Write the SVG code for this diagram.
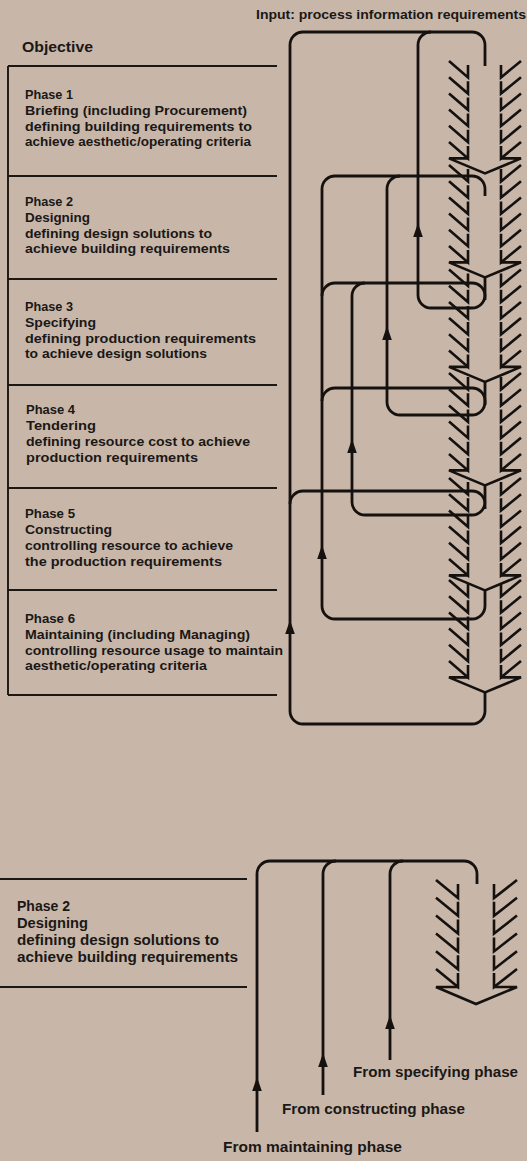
<svg xmlns="http://www.w3.org/2000/svg" width="527" height="1161" viewBox="0 0 527 1161">
<style>
.bg{fill:#c8b6a9}
.rule{stroke:#1a1714;stroke-width:1.9;fill:none}
.ln{stroke:#14110f;stroke-width:2.8;fill:none}
.fe{stroke:#14110f;stroke-width:2.6;fill:none;stroke-linejoin:miter}
.ah{fill:#14110f}
text{font-family:"Liberation Sans",Arial,sans-serif;font-weight:bold;fill:#1a1816}
.t{font-size:13.5px}
.h{font-size:15px}
.lo{font-size:14.5px}
.lab{font-size:14px}
.inp{font-size:12px}
</style>
<defs>
  <!-- one pair of feathers on the process arrow (upper and lower scale) -->
  <path id="featherU" d="M449,0 L468,16.4 L468,4 M521,0 L501,16.4 L501,4"/>
  <path id="headU" d="M468,0 L449,0 L485,15 L521,0 L501,0"/>
  <path id="featherL" d="M436,0 L458,18 L458,4 M517,0 L494,18 L494,4"/>
  <path id="headL" d="M458,0 L436,0 L476,17 L517,0 L494,0"/>
  <!-- upward flow arrowhead, tip at origin -->
  <path id="up" d="M0,0 L-4.8,14 L4.8,14 Z"/>
</defs>

<rect class="bg" x="0" y="0" width="527" height="1161"/>

<g id="input-label">
  <text class="inp" x="256" y="19" textLength="270" lengthAdjust="spacingAndGlyphs">Input: process information requirements</text>
</g>

<g id="objective-header">
  <text class="h" x="22" y="52" textLength="71" lengthAdjust="spacingAndGlyphs">Objective</text>
  <path class="rule" d="M8,66 L8,695 M8,66 L277,66"/>
</g>

<g id="phase1">
  <path class="rule" d="M8,176 L277,176"/>
  <text class="t" x="25" y="99" textLength="48" lengthAdjust="spacingAndGlyphs">Phase 1</text>
  <text class="t" x="25" y="114.8" textLength="222" lengthAdjust="spacingAndGlyphs">Briefing (including Procurement)</text>
  <text class="t" x="25" y="130.6" textLength="227" lengthAdjust="spacingAndGlyphs">defining building requirements to</text>
  <text class="t" x="25" y="146.4" textLength="226" lengthAdjust="spacingAndGlyphs">achieve aesthetic/operating criteria</text>
</g>

<g id="phase2">
  <path class="rule" d="M8,279 L277,279"/>
  <text class="t" x="25" y="206" textLength="48" lengthAdjust="spacingAndGlyphs">Phase 2</text>
  <text class="t" x="25" y="221.8" textLength="65" lengthAdjust="spacingAndGlyphs">Designing</text>
  <text class="t" x="25" y="237.6" textLength="187" lengthAdjust="spacingAndGlyphs">defining design solutions to</text>
  <text class="t" x="25" y="253.4" textLength="205" lengthAdjust="spacingAndGlyphs">achieve building requirements</text>
</g>

<g id="phase3">
  <path class="rule" d="M8,385 L277,385"/>
  <text class="t" x="25" y="311" textLength="48" lengthAdjust="spacingAndGlyphs">Phase 3</text>
  <text class="t" x="25" y="326.8" textLength="71" lengthAdjust="spacingAndGlyphs">Specifying</text>
  <text class="t" x="25" y="342.6" textLength="231" lengthAdjust="spacingAndGlyphs">defining production requirements</text>
  <text class="t" x="25" y="358.4" textLength="182" lengthAdjust="spacingAndGlyphs">to achieve design solutions</text>
</g>

<g id="phase4">
  <path class="rule" d="M8,488 L277,488"/>
  <text class="t" x="26" y="414" textLength="49" lengthAdjust="spacingAndGlyphs">Phase 4</text>
  <text class="t" x="26" y="429.8" textLength="70" lengthAdjust="spacingAndGlyphs">Tendering</text>
  <text class="t" x="26" y="445.8" textLength="224" lengthAdjust="spacingAndGlyphs">defining resource cost to achieve</text>
  <text class="t" x="26" y="462" textLength="172" lengthAdjust="spacingAndGlyphs">production requirements</text>
</g>

<g id="phase5">
  <path class="rule" d="M8,590 L277,590"/>
  <text class="t" x="25" y="518" textLength="50" lengthAdjust="spacingAndGlyphs">Phase 5</text>
  <text class="t" x="25" y="533.8" textLength="87" lengthAdjust="spacingAndGlyphs">Constructing</text>
  <text class="t" x="25" y="549.8" textLength="208" lengthAdjust="spacingAndGlyphs">controlling resource to achieve</text>
  <text class="t" x="25" y="566" textLength="197" lengthAdjust="spacingAndGlyphs">the production requirements</text>
</g>

<g id="phase6">
  <path class="rule" d="M8,695 L277,695"/>
  <text class="t" x="25" y="623" textLength="50" lengthAdjust="spacingAndGlyphs">Phase 6</text>
  <text class="t" x="25" y="638.8" textLength="225" lengthAdjust="spacingAndGlyphs">Maintaining (including Managing)</text>
  <text class="t" x="25" y="654.6" textLength="258" lengthAdjust="spacingAndGlyphs">controlling resource usage to maintain</text>
  <text class="t" x="25" y="670.4" textLength="182" lengthAdjust="spacingAndGlyphs">aesthetic/operating criteria</text>
</g>

<!-- feathered process arrow, one segment per phase -->
<g id="process-arrow" class="fe">
  <use href="#featherU" y="61"/><use href="#featherU" y="77.2"/><use href="#featherU" y="93.4"/>
  <use href="#featherU" y="109.6"/><use href="#featherU" y="125.8"/><use href="#featherU" y="142"/>
  <use href="#headU" y="158.4"/>
  <use href="#featherU" y="165"/><use href="#featherU" y="181.2"/><use href="#featherU" y="197.4"/>
  <use href="#featherU" y="213.6"/><use href="#featherU" y="229.8"/><use href="#featherU" y="246"/>
  <use href="#headU" y="262.4"/>
  <use href="#featherU" y="269.5"/><use href="#featherU" y="285.7"/><use href="#featherU" y="301.9"/>
  <use href="#featherU" y="318.1"/><use href="#featherU" y="334.3"/><use href="#featherU" y="350.5"/>
  <use href="#headU" y="366.9"/>
  <use href="#featherU" y="373"/><use href="#featherU" y="389.2"/><use href="#featherU" y="405.4"/>
  <use href="#featherU" y="421.6"/><use href="#featherU" y="437.8"/><use href="#featherU" y="454"/>
  <use href="#headU" y="470.4"/>
  <use href="#featherU" y="478"/><use href="#featherU" y="494.2"/><use href="#featherU" y="510.4"/>
  <use href="#featherU" y="526.6"/><use href="#featherU" y="542.8"/><use href="#featherU" y="559"/>
  <use href="#headU" y="575.4"/>
  <use href="#featherU" y="580"/><use href="#featherU" y="596.2"/><use href="#featherU" y="612.4"/>
  <use href="#featherU" y="628.6"/><use href="#featherU" y="644.8"/><use href="#featherU" y="661"/>
  <use href="#headU" y="677.4"/>
</g>

<g id="connectors">
  <g class="ln">
    <!-- phase 6 output back to phase 1 and phase 5 -->
    <path d="M485,692 L485,711 A13,13 0 0 1 472,724 L303,724 A13,13 0 0 1 290,711 L290,45 A13,13 0 0 1 303,32 L472,32 A13,13 0 0 1 485,45 L485,66"/>
    <path d="M290,504 A13,13 0 0 1 303,491 L472,491 A13,13 0 0 1 485,504 L485,509"/>
    <!-- phase 2 output back to phase 1 -->
    <path d="M485,277 L485,295 A13,13 0 0 1 472,308 L431,308 A13,13 0 0 1 418,295 L418,45 A13,13 0 0 1 431,32"/>
    <!-- phase 3 output back to phase 2 -->
    <path d="M485,382 L485,402 A13,13 0 0 1 472,415 L400,415 A13,13 0 0 1 387,402 L387,189 A13,13 0 0 1 400,176"/>
    <!-- phase 4 output back to phase 3 -->
    <path d="M485,485 L485,502 A13,13 0 0 1 472,515 L365,515 A13,13 0 0 1 352,502 L352,296 A13,13 0 0 1 365,283"/>
    <!-- phase 5 output back to phases 2, 3 and 4 -->
    <path d="M485,590 L485,606 A13,13 0 0 1 472,619 L335,619 A13,13 0 0 1 322,606 L322,189 A13,13 0 0 1 335,176 L472,176 A13,13 0 0 1 485,189 L485,196"/>
    <path d="M322,296 A13,13 0 0 1 335,283 L472,283 A13,13 0 0 1 485,296 L485,300"/>
    <path d="M322,401 A13,13 0 0 1 335,388 L472,388 A13,13 0 0 1 485,401 L485,405"/>
  </g>
  <g class="ah">
    <use href="#up" x="290" y="620"/>
    <use href="#up" x="322" y="545"/>
    <use href="#up" x="352" y="439"/>
    <use href="#up" x="387" y="326"/>
    <use href="#up" x="418" y="223"/>
  </g>
  <!-- detail: feedback into phase 2 -->
  <g class="ln">
    <path d="M257,1132 L257,874 A13,13 0 0 1 270,861 L464,861 A13,13 0 0 1 477,874 L477,884"/>
    <path d="M323,1095 L323,874 A13,13 0 0 1 336,861"/>
    <path d="M390,1060 L390,874 A13,13 0 0 1 403,861"/>
  </g>
  <g class="ah">
    <use href="#up" x="257" y="1077"/>
    <use href="#up" x="323" y="1053"/>
    <use href="#up" x="390" y="1015"/>
  </g>
</g>

<g id="phase2-detail">
  <path class="rule" d="M0,879 L247,879 M0,987 L247,987"/>
  <text class="lo" x="17" y="911" textLength="53" lengthAdjust="spacingAndGlyphs">Phase 2</text>
  <text class="lo" x="17" y="928" textLength="71" lengthAdjust="spacingAndGlyphs">Designing</text>
  <text class="lo" x="17" y="945" textLength="202" lengthAdjust="spacingAndGlyphs">defining design solutions to</text>
  <text class="lo" x="17" y="962" textLength="221" lengthAdjust="spacingAndGlyphs">achieve building requirements</text>
</g>

<g id="phase2-arrow" class="fe">
  <use href="#featherL" y="880"/><use href="#featherL" y="897.8"/><use href="#featherL" y="915.6"/>
  <use href="#featherL" y="933.4"/><use href="#featherL" y="951.2"/><use href="#featherL" y="969"/>
  <use href="#headL" y="987"/>
</g>

<g id="source-labels">
  <text class="lab" x="353" y="1077" textLength="165" lengthAdjust="spacingAndGlyphs">From specifying phase</text>
  <text class="lab" x="282" y="1114" textLength="183" lengthAdjust="spacingAndGlyphs">From constructing phase</text>
  <text class="lab" x="223" y="1152" textLength="179" lengthAdjust="spacingAndGlyphs">From maintaining phase</text>
</g>
</svg>
